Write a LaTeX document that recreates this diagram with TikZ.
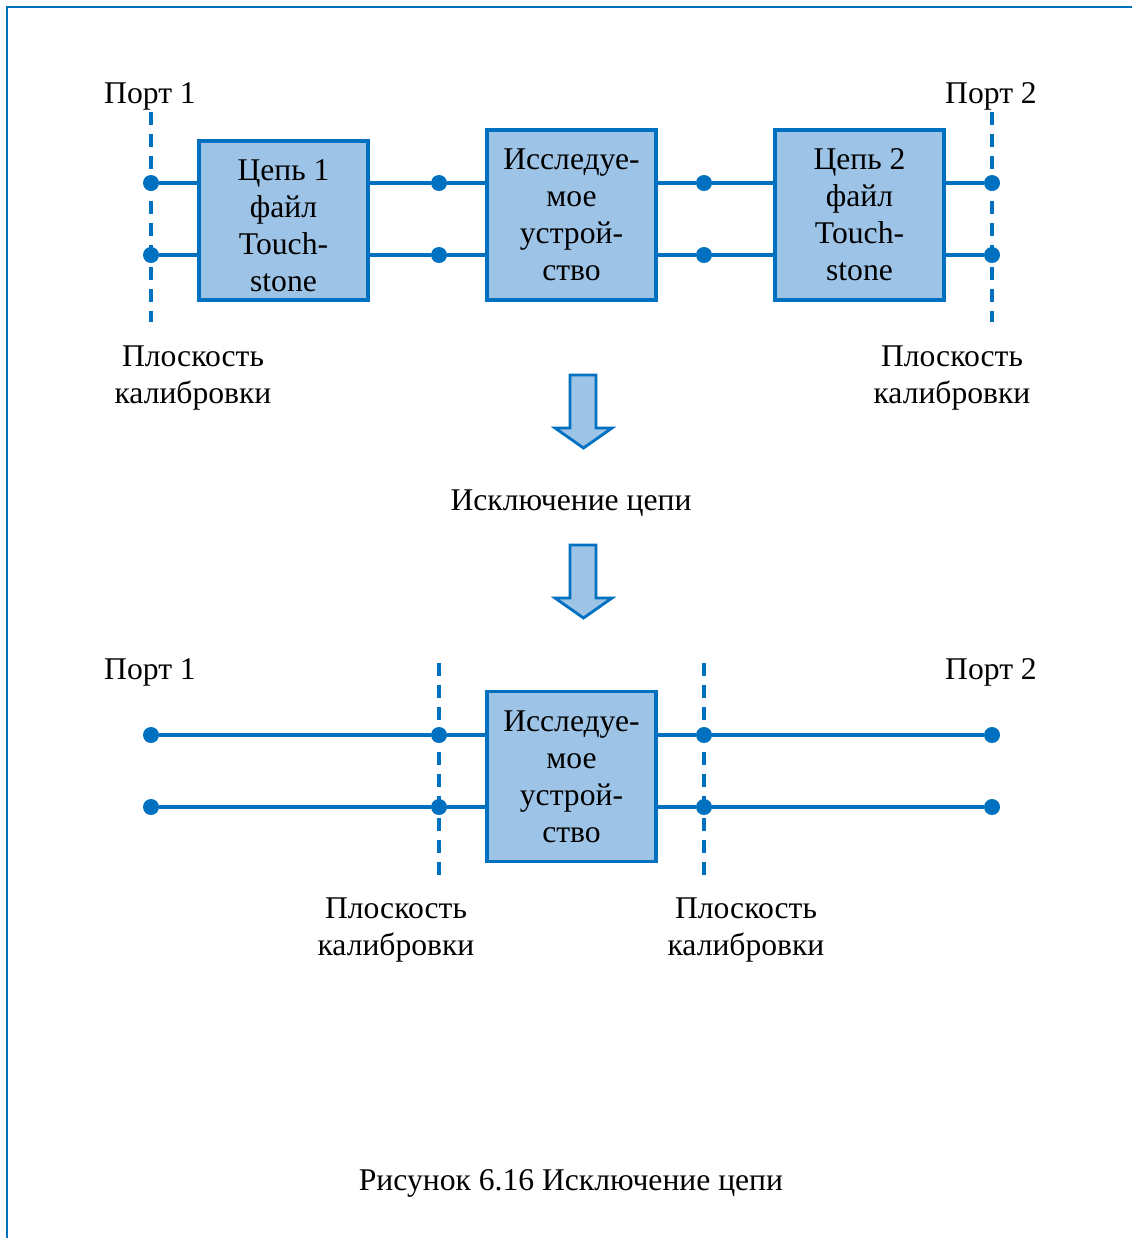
\documentclass[tikz,border=0pt]{standalone}
\usepackage{fontspec}
\setmainfont{Liberation Serif}
\definecolor{wireblue}{RGB}{0,112,192}
\definecolor{boxfill}{RGB}{157,195,230}

\begin{document}
\begin{tikzpicture}[
    x=0.02cm, y=-0.02cm,
    every node/.style={font=\fontsize{18}{21.5}\selectfont},
    wire/.style={wireblue, line width=2pt},
    plane/.style={wireblue, line width=2pt, dash pattern=on 7.4pt off 5.2pt},
    dot/.style={circle, fill=wireblue, inner sep=0pt, minimum size=0.32cm},
    block/.style={draw=wireblue, fill=boxfill, line width=2pt, align=center,
      minimum width=3.38cm, minimum height=3.4cm, font=\fontsize{18}{21}\selectfont},
    bigarrow/.style={draw=wireblue, fill=boxfill, line width=1.6pt}
  ]
  \useasboundingbox (0,0) rectangle (1132,1238);
  % Frame
  \draw[wireblue, line width=1.2pt] (7,1238) -- (7,7) -- (1132,7);

  % Top: planes at the ports
  \coordinate (pl1t) at (151,112);
  \coordinate (pl1b) at (151,322);
  \coordinate (pl2t) at (992,112);
  \coordinate (pl2b) at (992,322);
  \draw[plane] (pl1t) -- (pl1b);
  \draw[plane] (pl2t) -- (pl2b);

  % Top: blocks
  \node[block, minimum height=3.18cm, text height=81pt] (fix1) at (283.5,220.5) {Цепь 1\\файл\\Touch-\\stone};
  \node[block] (dut) at (571.5,215) {Исследуе-\\мое\\устрой-\\ство};
  \node[block] (fix2) at (859.5,215) {Цепь 2\\файл\\Touch-\\stone};

  % Top: dots
  \node[dot] (p1a) at (151,183) {};
  \node[dot] (p1b) at (151,255) {};
  \node[dot] (m1a) at (439,183) {};
  \node[dot] (m1b) at (439,255) {};
  \node[dot] (m2a) at (704,183) {};
  \node[dot] (m2b) at (704,255) {};
  \node[dot] (p2a) at (992,183) {};
  \node[dot] (p2b) at (992,255) {};

  % Top: wires
  \draw[wire] (p1a) -- (fix1.west |- p1a);
  \draw[wire] (p1b) -- (fix1.west |- p1b);
  \draw[wire] (fix1.east |- m1a) -- (m1a) -- (dut.west |- m1a);
  \draw[wire] (fix1.east |- m1b) -- (m1b) -- (dut.west |- m1b);
  \draw[wire] (dut.east |- m2a) -- (m2a) -- (fix2.west |- m2a);
  \draw[wire] (dut.east |- m2b) -- (m2b) -- (fix2.west |- m2b);
  \draw[wire] (fix2.east |- p2a) -- (p2a);
  \draw[wire] (fix2.east |- p2b) -- (p2b);

  % Top: labels
  \node (port1) at (150,96) {Порт 1};
  \node (port2) at (991,96) {Порт 2};
  \node[align=center] (cal1) at (193,378) {Плоскость\\калибровки};
  \node[align=center] (cal2) at (952,378) {Плоскость\\калибровки};

  % Arrows and step
  \foreach \t in {375,545}
    \draw[bigarrow] (570,\t) -- (596,\t) -- (596,\t+53) -- (612,\t+53)
      -- (583.5,\t+73) -- (555,\t+53) -- (570,\t+53) -- cycle;
  \node (step) at (571,503) {Исключение цепи};

  % Bottom: planes moved to the device
  \coordinate (pl3t) at (439,663);
  \coordinate (pl3b) at (439,875);
  \coordinate (pl4t) at (704,663);
  \coordinate (pl4b) at (704,875);
  \draw[plane] (pl3t) -- (pl3b);
  \draw[plane] (pl4t) -- (pl4b);

  % Bottom: block and dots
  \node[block] (dut2) at (571.5,776.5) {Исследуе-\\мое\\устрой-\\ство};
  \node[dot] (q1a) at (151,735) {};
  \node[dot] (q1b) at (151,807) {};
  \node[dot] (r1a) at (439,735) {};
  \node[dot] (r1b) at (439,807) {};
  \node[dot] (r2a) at (704,735) {};
  \node[dot] (r2b) at (704,807) {};
  \node[dot] (q2a) at (992,735) {};
  \node[dot] (q2b) at (992,807) {};

  % Bottom: wires
  \draw[wire] (q1a) -- (r1a) -- (dut2.west |- r1a);
  \draw[wire] (q1b) -- (r1b) -- (dut2.west |- r1b);
  \draw[wire] (dut2.east |- r2a) -- (r2a) -- (q2a);
  \draw[wire] (dut2.east |- r2b) -- (r2b) -- (q2b);

  % Bottom: labels
  \node (port3) at (150,672) {Порт 1};
  \node (port4) at (991,672) {Порт 2};
  \node[align=center] (cal3) at (396,930) {Плоскость\\калибровки};
  \node[align=center] (cal4) at (746,930) {Плоскость\\калибровки};

  % Caption
  \node (caption) at (571,1183) {Рисунок 6.16 Исключение цепи};
\end{tikzpicture}
\end{document}
